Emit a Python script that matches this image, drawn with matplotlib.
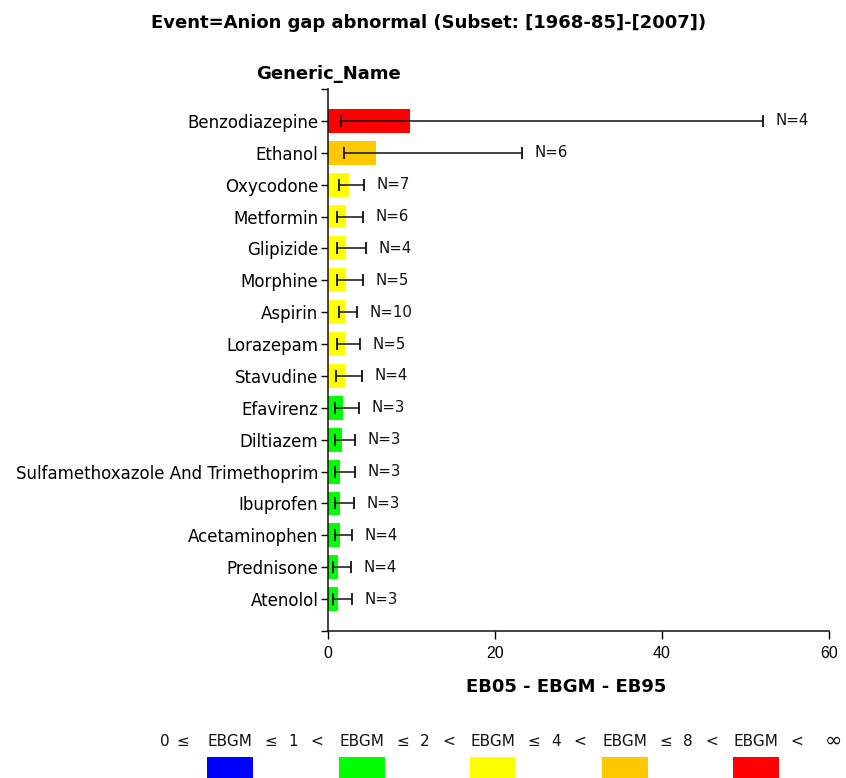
import matplotlib
matplotlib.use("Agg")
import matplotlib.pyplot as plt
from matplotlib.patches import Rectangle
from matplotlib.ticker import FixedLocator

# Drug names (top to bottom) and their EB05 / EBGM / EB95 estimates
names = ["Benzodiazepine", "Ethanol", "Oxycodone", "Metformin", "Glipizide",
         "Morphine", "Aspirin", "Lorazepam", "Stavudine", "Efavirenz",
         "Diltiazem", "Sulfamethoxazole And Trimethoprim", "Ibuprofen",
         "Acetaminophen", "Prednisone", "Atenolol"]
ebgm = [9.78, 5.70, 2.55, 2.16, 2.16, 2.16, 2.04, 2.04, 2.04, 1.84,
        1.64, 1.44, 1.44, 1.44, 1.24, 1.24]
eb05 = [1.56, 1.92, 1.36, 1.12, 1.12, 1.12, 1.36, 1.12, 0.92, 0.80,
        0.80, 0.80, 0.80, 0.80, 0.64, 0.64]
eb95 = [52.1, 23.2, 4.31, 4.15, 4.50, 4.15, 3.43, 3.83, 4.03, 3.75,
        3.23, 3.23, 3.07, 2.91, 2.72, 2.91]
counts = [4, 6, 7, 6, 4, 5, 10, 5, 4, 3, 3, 3, 3, 4, 4, 3]

x_ticks = [0, 20, 40, 60]

# EBGM colour bins
bin_edges = [1, 2, 4, 8]
bin_colors = ["#0000FF", "#00FF00", "#FFFF00", "#FFC800", "#FF0000"]
bin_upper_labels = ["1", "2", "4", "8"]


def bin_color(v):
    for edge, col in zip(bin_edges, bin_colors):
        if v <= edge:
            return col
    return bin_colors[-1]


W, H = 846, 778
fig = plt.figure(figsize=(W / 100, H / 100), dpi=100)
ax = fig.add_axes([328 / W, 1 - 631 / H, (829 - 328) / W, (631 - 89) / H])

ypos = list(range(len(names)))
colors = [bin_color(v) for v in ebgm]
ax.barh(ypos, ebgm, height=0.75, color=colors, edgecolor="none", zorder=2)

# EB05 -> EB95 interval with caps at both ends
ax.hlines(ypos, eb05, eb95, color="#111111", linewidth=1.1, zorder=3)
ax.plot(eb05, ypos, linestyle="none", marker="|", markersize=8, markeredgewidth=1.3,
        color="#111111", zorder=4)
ax.plot(eb95, ypos, linestyle="none", marker="|", markersize=8, markeredgewidth=1.3,
        color="#111111", zorder=4)

for y, hi, n in zip(ypos, eb95, counts):
    ax.annotate(f"N={n}", xy=(hi, y), xytext=(9, 0), textcoords="offset points",
                ha="left", va="center", fontsize=10.8, family="DejaVu Sans",
                color="#111111")

ax.set_xlim(0, 60)
ax.set_ylim(len(names), -1)
ax.set_xticks(x_ticks)
ax.set_xticklabels([str(t) for t in x_ticks], fontsize=11.5, family="Liberation Sans")
ax.set_yticks(ypos)
ax.set_yticklabels(names, fontsize=12, family="DejaVu Sans")
ax.yaxis.set_minor_locator(FixedLocator([-1, len(names)]))
ax.tick_params(axis="y", which="both", length=5, width=1, direction="out", pad=2)
ax.tick_params(axis="x", length=6, width=1, direction="out", pad=5)

for side in ["top", "right"]:
    ax.spines[side].set_visible(False)
for side in ["left", "bottom"]:
    ax.spines[side].set_linewidth(1.1)
    ax.spines[side].set_color("#111111")

ax.set_xlabel("EB05 - EBGM - EB95", fontsize=13, fontweight="bold",
              family="DejaVu Sans", va="center")
ax.xaxis.set_label_coords((566.5 - 328) / 501, (631 - 687) / 542)

fig.text(429 / W, 1 - 23 / H, "Event=Anion gap abnormal (Subset: [1968-85]-[2007])",
         ha="center", va="center", fontsize=13, fontweight="bold", family="DejaVu Sans")
fig.text(328.5 / W, 1 - 74 / H, "Generic_Name", ha="center", va="center",
         fontsize=13, fontweight="bold", family="DejaVu Sans")

# EBGM colour key
box_centers = [230, 361.5, 493, 625, 756]
box_w, box_top, box_h = 46, 757, 22
text_y = 1 - 741 / H
key_font = dict(ha="center", va="center", fontsize=11, family="DejaVu Sans",
                color="#111111")
for cx, col in zip(box_centers, bin_colors):
    fig.patches.append(Rectangle(((cx - box_w / 2) / W, 1 - (box_top + box_h) / H),
                                 box_w / W, box_h / H, transform=fig.transFigure,
                                 facecolor=col, edgecolor="none"))
    fig.text(cx / W, text_y, "EBGM", **key_font)
fig.text((box_centers[0] - 65) / W, text_y, "0", **key_font)
fig.text((box_centers[0] - 47.5) / W, text_y, "≤", **key_font)
for cx, lab in zip(box_centers[:-1], bin_upper_labels):
    fig.text((cx + 41) / W, text_y, "≤", **key_font)
    fig.text((cx + 63) / W, text_y, lab, **key_font)
    fig.text((cx + 87) / W, text_y, "<", **key_font)
fig.text((box_centers[-1] + 41) / W, text_y, "<", **key_font)
fig.text((box_centers[-1] + 77) / W, text_y, "∞", ha="center", va="center",
         fontsize=15, family="DejaVu Sans", color="#111111")

fig.savefig("out.png", dpi=100)
